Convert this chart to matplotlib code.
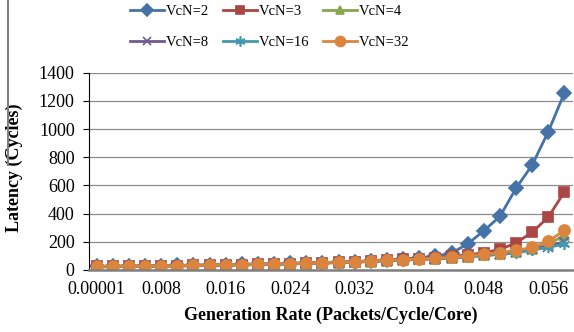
import matplotlib
matplotlib.use('Agg')
import matplotlib.pyplot as plt
from matplotlib.lines import Line2D
import numpy as np

# generation rate categories (packets/cycle/core)
rates = ['0.00001'] + ['%g' % (0.002 * i) for i in range(1, 30)]
tick_every = 4

vcn2 = [27, 28, 29, 30, 31, 33, 34, 36, 38, 40, 42, 44, 47, 50, 53, 56, 60, 65,
        72, 78, 88, 98, 120, 185, 278, 380, 580, 745, 982, 1257]
vcn3 = [25, 26, 27, 28, 30, 31, 33, 35, 37, 39, 41, 43, 46, 49, 52, 55, 59, 64,
        69, 75, 81, 88, 96, 108, 122, 146, 192, 268, 375, 555]
vcn4 = [22, 23, 24, 25, 27, 28, 30, 32, 34, 36, 38, 40, 43, 46, 49, 52, 56, 60,
        65, 70, 75, 80, 86, 94, 104, 115, 128, 148, 185, 245]
vcn8 = [23, 24, 25, 26, 28, 29, 31, 33, 35, 37, 39, 41, 44, 47, 50, 53, 57, 61,
        66, 71, 76, 81, 87, 95, 104, 112, 126, 152, 166, 200]
vcn16 = [23, 24, 25, 26, 28, 29, 31, 33, 35, 37, 39, 41, 44, 47, 50, 53, 57, 61,
         66, 71, 76, 81, 87, 94, 103, 110, 120, 142, 160, 185]
vcn32 = [25, 26, 27, 28, 30, 31, 33, 35, 37, 39, 41, 43, 46, 49, 52, 55, 59, 64,
         69, 74, 78, 83, 90, 99, 112, 124, 140, 160, 204, 281]

series = [
    ('VcN=2', vcn2, '#4572A7', 'D', 7),
    ('VcN=3', vcn3, '#AA4643', 's', 7),
    ('VcN=4', vcn4, '#89A54E', '^', 7),
    ('VcN=8', vcn8, '#71588F', 'x', 7),
    ('VcN=16', vcn16, '#4198AF', (6, 2, 0), 8),
    ('VcN=32', vcn32, '#DB843D', 'o', 8),
]

plt.rcParams['font.family'] = 'Liberation Serif'

fig = plt.figure(figsize=(5.74, 3.32), dpi=100)
ax = fig.add_axes([88.6 / 574, 1 - 270 / 332, (572.5 - 88.6) / 574, (270 - 72.7) / 332])

x = np.arange(len(rates))
handles = []
for name, ys, col, mk, ms in series:
    h, = ax.plot(x, ys, color=col, lw=2, marker=mk, ms=ms, mew=1.2, label=name)
    handles.append(h)

ax.set_xlim(-0.5, len(rates) - 0.5)
ax.set_ylim(0, 1400)
ax.set_yticks(range(0, 1401, 200))
ax.set_xticks(x[::tick_every])
ax.set_xticklabels(rates[::tick_every])
ax.yaxis.grid(True, color='#8c8c8c', lw=0.9)
ax.set_axisbelow(True)

for s in ['top', 'right']:
    ax.spines[s].set_visible(False)
ax.spines['left'].set_color('black')
ax.spines['left'].set_linewidth(0.8)
ax.spines['bottom'].set_color('#7f7f7f')
ax.spines['bottom'].set_linewidth(1.8)
ax.tick_params(axis='y', length=4, pad=6, labelsize=13)
ax.tick_params(axis='x', length=0, pad=8, labelsize=13)

ax.set_ylabel('Latency (Cycles)', fontsize=13, fontweight='bold')
ax.yaxis.set_label_coords(-0.135, 0.52)
ax.set_xlabel('Generation Rate (Packets/Cycle/Core)', fontsize=13, fontweight='bold', labelpad=6)

# legend fills row by row in the original
order = [0, 3, 1, 4, 2, 5]
fig.legend([handles[i] for i in order], [series[i][0] for i in order],
           loc='center', bbox_to_anchor=(270 / 574, 1 - 27 / 332), ncol=3, frameon=False,
           fontsize=10.5, handlelength=2.3, handletextpad=0.15, columnspacing=0.95,
           labelspacing=1.25, markerscale=0.9)

fig.add_artist(Line2D([7.5 / 574, 7.5 / 574], [1, 1 - 165 / 332], transform=fig.transFigure,
                      color='#808080', lw=1.5))

fig.savefig('out.png', dpi=100)
